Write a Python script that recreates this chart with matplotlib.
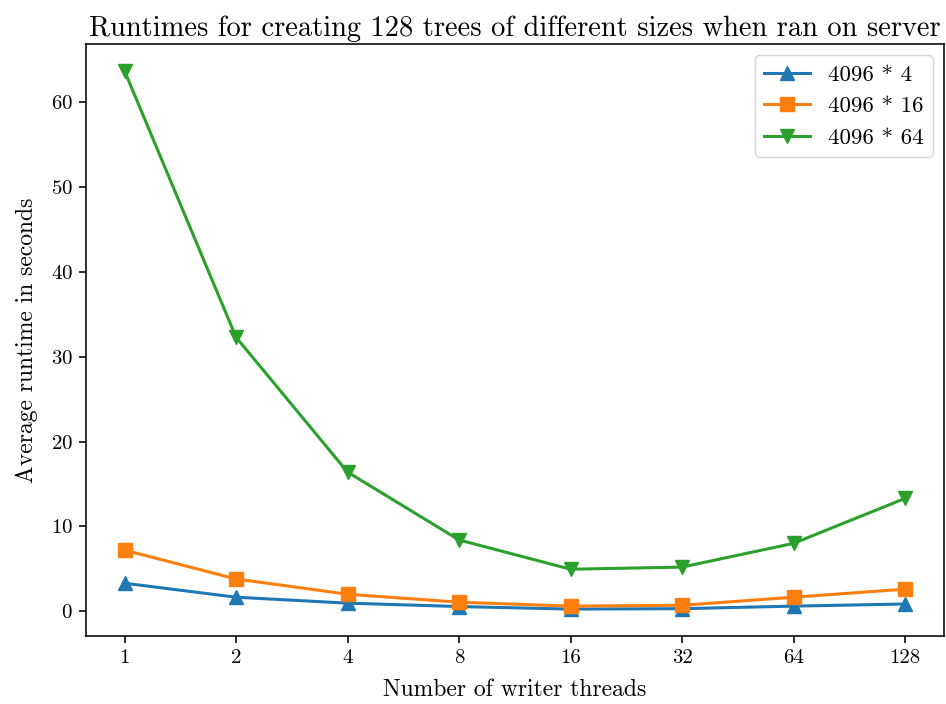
import matplotlib
matplotlib.use('Agg')
import matplotlib.pyplot as plt

# Computer Modern look
plt.rcParams['font.family'] = 'serif'
plt.rcParams['font.serif'] = ['cmr10']
plt.rcParams['mathtext.fontset'] = 'cm'
plt.rcParams['axes.formatter.use_mathtext'] = True
plt.rcParams['axes.linewidth'] = 1.15
plt.rcParams['xtick.major.width'] = 1.15
plt.rcParams['ytick.major.width'] = 1.15
plt.rcParams['xtick.major.size'] = 5.2
plt.rcParams['ytick.major.size'] = 5.2

threads = [1, 2, 4, 8, 16, 32, 64, 128]
size_4 = [3.3, 1.65, 0.95, 0.55, 0.25, 0.3, 0.6, 0.85]
size_16 = [7.2, 3.8, 2.0, 1.06, 0.6, 0.7, 1.65, 2.6]
size_64 = [63.7, 32.3, 16.4, 8.4, 4.95, 5.2, 8.0, 13.3]

fig, ax = plt.subplots(figsize=(9.46, 7.04), dpi=100)
x = range(len(threads))
ax.plot(x, size_4, marker='^', markersize=10, linewidth=2.2, label='4096 * 4')
ax.plot(x, size_16, marker='s', markersize=10, linewidth=2.2, label='4096 * 16')
ax.plot(x, size_64, marker='v', markersize=10, linewidth=2.2, label='4096 * 64')

ax.set_xticks(list(x))
ax.set_xticklabels([str(t) for t in threads])
ax.tick_params(labelsize=15, pad=4)
ax.set_xlabel('Number of writer threads', fontsize=17, labelpad=9)
ax.set_ylabel('Average runtime in seconds', fontsize=17, labelpad=9)
ax.set_title('Runtimes for creating 128 trees of different sizes when ran on server', fontsize=20.5)
ax.legend(fontsize=16.5)

fig.subplots_adjust(left=0.0904, right=0.998, top=0.9375, bottom=0.0966)
fig.savefig('out.png', dpi=100)
